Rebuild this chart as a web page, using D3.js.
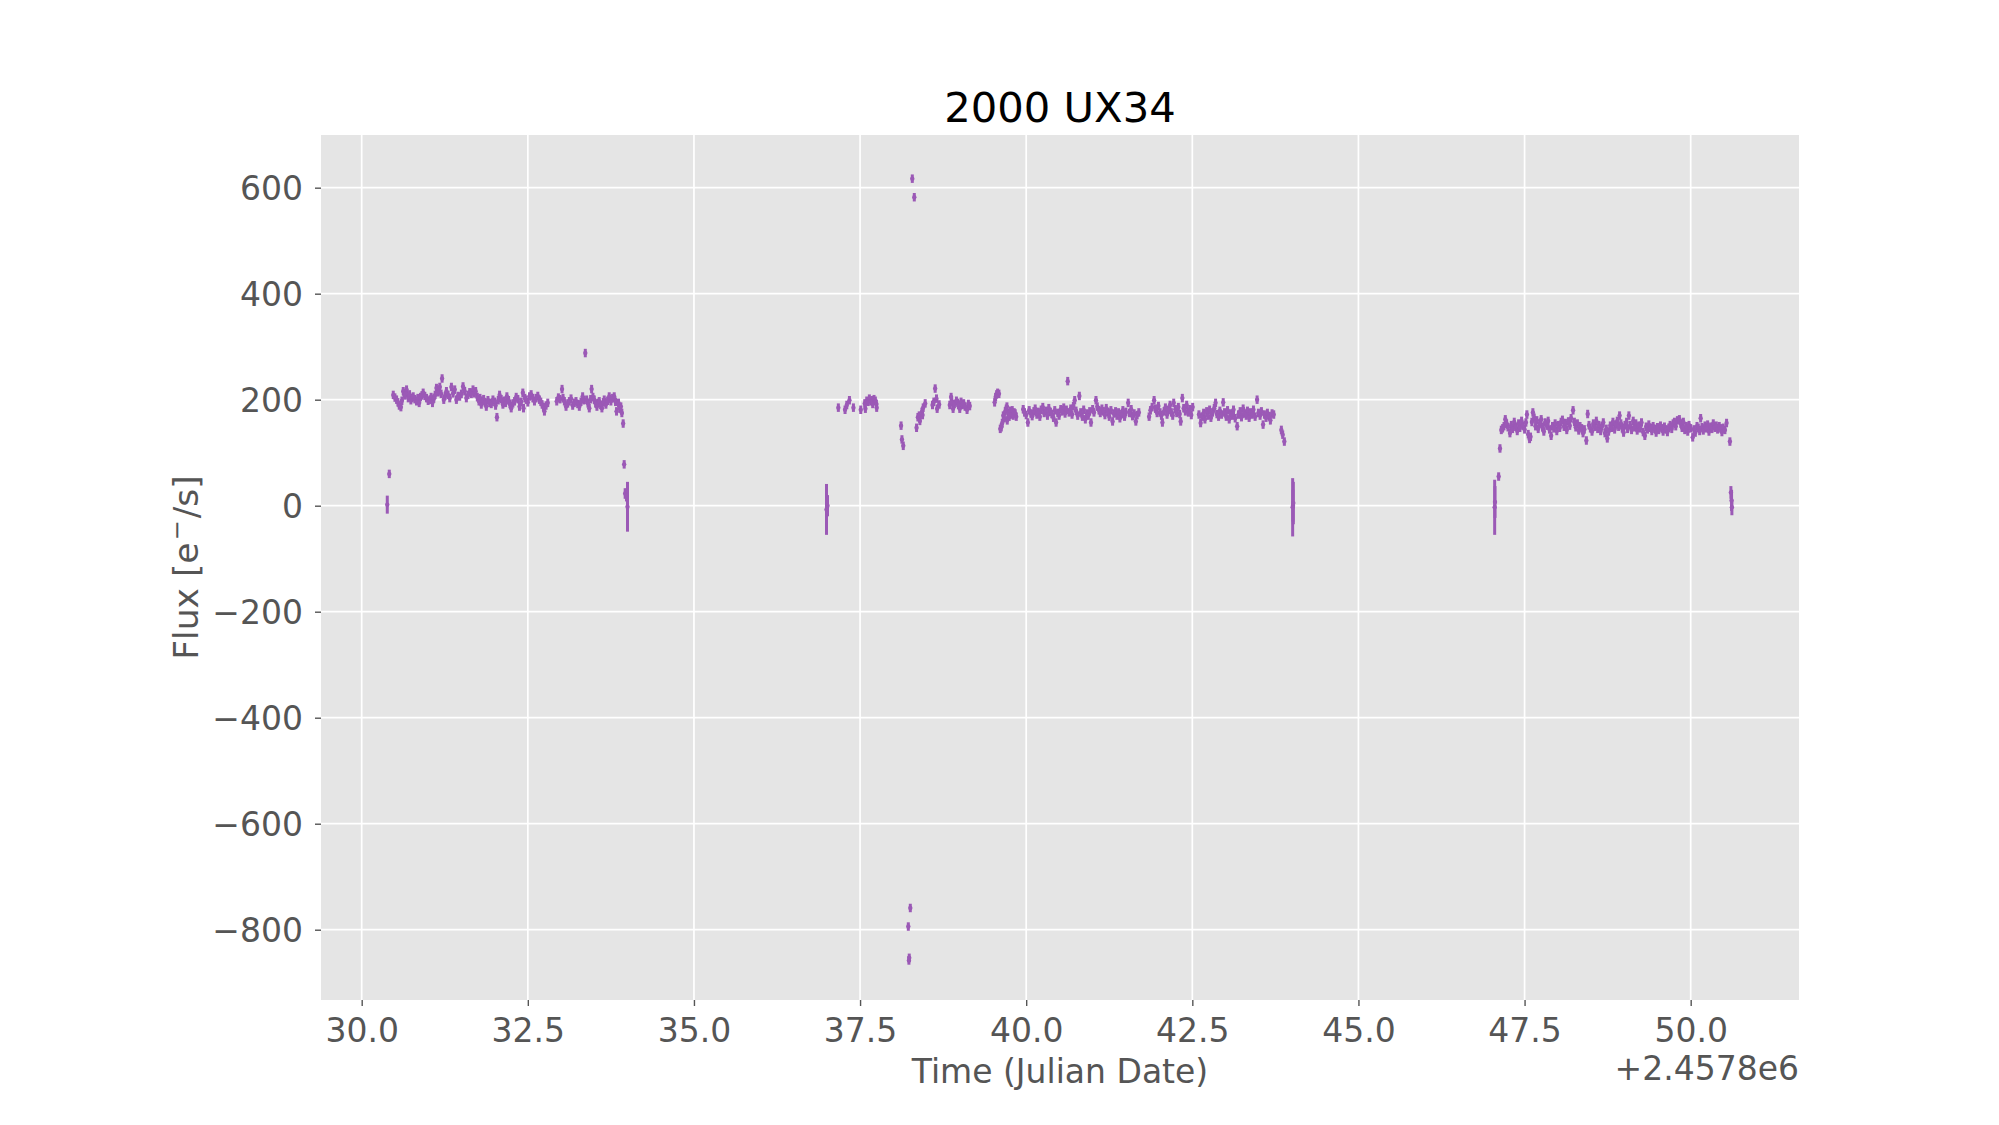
<!DOCTYPE html>
<html>
<head>
<meta charset="utf-8">
<script src="https://cdn.jsdelivr.net/npm/d3@7"></script>
<style>
body { margin: 0; background: #fff; }
text { font-family: "DejaVu Sans", sans-serif; }
</style>
</head>
<body>
<script>

// light curve of 2000 UX34, time is JD - 2457800, flux in e-/s
// [time, flux] pairs, each with the typical error below
var typicalErr = 8;

var campaignA = [
  [30.415,60],[30.475,209],[30.50,204],[30.525,200],[30.545,195],[30.565,189],[30.59,186],[30.605,198],
  [30.625,216],[30.645,208],[30.66,212],[30.675,219],[30.70,203],[30.72,210],[30.74,199],[30.76,203],
  [30.775,206],[30.80,201],[30.825,197],[30.845,203],[30.865,194],[30.885,205],[30.905,208],[30.925,213],
  [30.95,207],[30.975,203],[31.00,198],[31.025,200],[31.045,205],[31.065,194],[31.085,202],[31.105,209],
  [31.125,222],[31.15,214],[31.175,224],[31.195,211],[31.21,240],[31.235,200],[31.255,207],[31.275,216],
  [31.30,209],[31.325,203],[31.35,224],[31.375,212],[31.40,219],[31.425,200],[31.45,207],[31.475,206],
  [31.50,211],[31.525,225],[31.55,216],[31.575,203],[31.60,209],[31.625,214],[31.65,211],[31.675,219],
  [31.695,212],[31.715,216],[31.74,205],[31.765,197],[31.78,203],[31.80,191],[31.815,198],[31.835,201],
  [31.855,195],[31.875,187],[31.90,199],[31.925,194],[31.95,192],[31.975,200],[32.00,196],[32.015,189],
  [32.035,167],[32.055,199],[32.075,209],[32.10,201],[32.125,191],[32.145,198],[32.165,194],[32.185,206],
  [32.21,199],[32.23,192],[32.25,184],[32.275,193],[32.30,197],[32.325,205],[32.35,201],[32.375,187],
  [32.40,196],[32.425,213],[32.435,184],[32.455,203],[32.475,200],[32.50,195],[32.525,206],[32.55,210],
  [32.575,203],[32.60,197],[32.625,203],[32.65,207],[32.675,200],[32.695,196],[32.715,191],[32.735,186],
  [32.75,178],[32.775,189],[32.80,194],[32.935,197],[32.96,204],[32.985,201],[33.015,220],[33.03,203],
  [33.05,197],[33.075,187],[33.10,193],[33.125,197],[33.15,202],[33.175,189],[33.20,194],[33.225,197],
  [33.25,192],[33.275,187],[33.30,196],[33.325,206],[33.345,199],[33.365,288],[33.385,200],[33.405,193],
  [33.425,184],[33.445,201],[33.46,220],[33.48,205],[33.50,200],[33.52,193],[33.54,187],[33.56,194],
  [33.575,197],[33.595,190],[33.615,184],[33.635,195],[33.65,200],[33.675,191],[33.70,198],[33.725,206],
  [33.75,197],[33.775,203],[33.80,206],[33.82,196],[33.835,178],[33.865,194],[33.885,183],[33.90,187],
  [33.915,175],[33.935,155],[33.95,78]
];

var campaignB = [
  [37.173,185],[37.274,181],[37.30,190],[37.34,199],[37.40,185],[37.51,181],[37.57,193],[37.58,183],
  [37.60,198],[37.62,196],[37.64,202],[37.66,197],[37.68,199],[37.69,192],[37.71,201],[37.73,198],
  [37.745,192],[37.75,185],[38.117,151],[38.13,125],[38.15,113],
  [38.226,-794],[38.235,-858],[38.24,-853],[38.256,-759],[38.286,617],[38.316,582],
  [38.35,147],[38.37,167],[38.39,170],[38.40,160],[38.43,177],[38.44,171],[38.45,185],[38.48,193],
  [38.59,190],[38.61,196],[38.63,221],[38.65,202],[38.66,183],[38.69,191],[38.85,190],[38.87,205],
  [38.88,195],[38.90,183],[38.92,192],[38.95,198],[38.97,194],[38.98,190],[39.00,183],[39.02,196],
  [39.04,190],[39.06,193],[39.08,187],[39.11,181],[39.13,192],[39.15,188]
];

var campaignC = [
  [39.525,195],[39.54,205],[39.555,210],[39.57,213],[39.59,211],[39.61,145],[39.625,148],[39.64,156],
  [39.655,170],[39.67,165],[39.685,178],[39.70,183],[39.71,187],[39.715,161],[39.73,175],[39.745,168],
  [39.76,179],[39.775,172],[39.79,180],[39.805,170],[39.82,176],[39.835,174],[39.85,168],
  [39.955,182],[39.975,176],[40.00,171],[40.025,157],[40.045,180],[40.07,174],[40.09,169],[40.115,178],
  [40.135,183],[40.16,172],[40.18,177],[40.205,168],[40.225,181],[40.25,186],[40.27,175],[40.295,179],
  [40.32,170],[40.34,184],[40.365,177],[40.385,173],[40.41,166],[40.43,180],[40.45,157],[40.475,175],
  [40.495,170],[40.52,182],[40.54,178],[40.565,185],[40.585,174],[40.605,181],[40.625,235],[40.645,176],
  [40.67,183],[40.69,172],[40.71,188],[40.73,199],[40.75,179],[40.775,170],[40.80,207],[40.82,176],
  [40.845,168],[40.865,181],[40.89,163],[40.91,174],[40.935,170],[40.955,178],[40.975,157],[41.00,182],
  [41.02,176],[41.05,199],[41.07,187],[41.095,180],[41.115,175],[41.14,183],[41.16,178],[41.185,171],
  [41.205,184],[41.23,177],[41.25,168],[41.275,180],[41.30,159],[41.32,174],[41.345,178],[41.365,170],
  [41.39,176],[41.41,165],[41.435,173],[41.455,180],[41.48,168],[41.50,177],[41.535,194],[41.555,175],
  [41.58,182],[41.60,169],[41.625,174],[41.65,159],[41.67,171],[41.695,176],[41.85,168],[41.87,180],
  [41.895,186],[41.925,199],[41.945,183],[41.97,175],[41.99,188],[42.015,176],[42.035,170],[42.05,157],
  [42.075,178],[42.095,185],[42.12,172],[42.14,181],[42.165,190],[42.185,176],[42.205,170],[42.22,194],
  [42.245,182],[42.265,175],[42.29,186],[42.31,173],[42.325,159],[42.35,203],[42.37,184],[42.395,178],
  [42.415,190],[42.44,176],[42.46,182],[42.485,171],[42.505,186],[42.60,172],[42.625,156],[42.645,168],
  [42.67,175],[42.69,163],[42.715,178],[42.735,170],[42.76,181],[42.78,166],[42.805,176],[42.83,184],
  [42.85,194],[42.87,173],[42.895,168],[42.915,179],[42.94,172],[42.965,195],[42.985,176],[43.01,168],
  [43.03,180],[43.055,163],[43.075,174],[43.10,170],[43.12,181],[43.145,165],[43.175,150],[43.195,172],
  [43.22,178],[43.24,167],[43.265,183],[43.285,174],[43.31,170],[43.33,179],[43.355,166],[43.375,176],
  [43.40,172],[43.42,181],[43.445,168],[43.475,200],[43.495,175],[43.52,170],[43.54,178],[43.565,153],
  [43.585,172],[43.61,166],[43.63,175],[43.655,169],[43.675,161],[43.70,174],[43.725,172],[43.84,143],
  [43.86,134],[43.885,121]
];

var campaignD = [
  [47.11,55],[47.13,108],[47.15,143],[47.17,146],[47.19,150],[47.21,163],[47.23,155],[47.25,148],
  [47.28,137],[47.30,152],[47.32,145],[47.345,158],[47.365,149],[47.39,141],[47.41,155],[47.43,147],
  [47.455,160],[47.475,151],[47.50,144],[47.52,157],[47.535,172],[47.555,135],[47.575,126],[47.59,130],
  [47.61,158],[47.625,176],[47.645,166],[47.665,150],[47.685,161],[47.705,145],[47.73,155],[47.75,163],
  [47.77,148],[47.79,140],[47.81,157],[47.835,151],[47.855,160],[47.875,144],[47.90,132],[47.92,150],
  [47.94,146],[47.96,155],[47.985,141],[48.005,152],[48.03,147],[48.05,158],[48.07,162],[48.095,149],
  [48.115,156],[48.135,143],[48.16,159],[48.18,151],[48.20,165],[48.23,180],[48.25,158],[48.27,148],
  [48.295,155],[48.315,142],[48.335,150],[48.36,146],[48.38,137],[48.40,144],[48.43,123],[48.45,173],
  [48.47,152],[48.49,146],[48.515,140],[48.535,155],[48.555,149],[48.58,160],[48.60,145],[48.62,152],
  [48.645,141],[48.665,150],[48.685,157],[48.71,137],[48.73,145],[48.745,127],[48.765,140],[48.79,151],
  [48.81,147],[48.83,158],[48.855,144],[48.875,153],[48.895,160],[48.915,149],[48.93,170],[48.95,155],
  [48.97,146],[48.99,138],[49.01,152],[49.035,158],[49.05,145],[49.07,170],[49.09,152],[49.11,143],
  [49.135,160],[49.155,148],[49.175,155],[49.195,142],[49.22,151],[49.24,146],[49.26,157],[49.285,139],
  [49.31,132],[49.33,149],[49.35,144],[49.37,153],[49.395,147],[49.415,141],[49.435,150],[49.46,145],
  [49.48,138],[49.50,148],[49.52,143],[49.545,151],[49.565,146],[49.585,140],[49.605,149],[49.63,144],
  [49.65,139],[49.67,147],[49.69,152],[49.715,145],[49.735,155],[49.755,158],[49.775,150],[49.80,161],
  [49.83,163],[49.85,155],[49.87,147],[49.89,158],[49.91,143],[49.935,150],[49.955,140],[49.975,152],
  [50.00,146],[50.03,129],[50.05,144],[50.07,138],[50.095,150],[50.115,147],[50.135,141],[50.15,165],
  [50.17,148],[50.19,142],[50.215,151],[50.235,146],[50.255,153],[50.275,140],[50.30,149],[50.32,145],
  [50.34,155],[50.365,147],[50.385,151],[50.405,144],[50.43,150],[50.45,146],[50.47,139],[50.49,147],
  [50.515,143],[50.54,156],[50.59,121]
];

// points at the segment edges with large errors: [time, flux, error]
var edgePoints = [
  [30.385,2,17],[33.965,23,10],[33.985,20,12],[34.00,-2,47],
  [36.995,-7,48],[37.01,0,20],
  [44.01,-3,55],[44.015,0,30],[44.02,5,40],
  [47.05,-3,52],[47.055,7,30],
  [50.605,25,12],[50.615,10,20],[50.62,-3,15]
];

var xTicks = [30, 32.5, 35, 37.5, 40, 42.5, 45, 47.5, 50];
var xTickLabels = ["30.0","32.5","35.0","37.5","40.0","42.5","45.0","47.5","50.0"];
var yTicks = [-800, -600, -400, -200, 0, 200, 400, 600];
var yTickLabels = ["\u2212800","\u2212600","\u2212400","\u2212200","0","200","400","600"];

//Width and height of SVG canvas
var w = 1999;
var h = 1125;
var axLeft = 321, axRight = 1799, axTop = 135, axBottom = 1000;
var purple = "#9b59b6";
var grey = "#555555";

var svg = d3.select("body")
  .append("svg")
  .attr("width", w)
  .attr("height", h);

var x = d3.scaleLinear().domain([29.3875, 51.63]).range([axLeft, axRight]);
var y = d3.scaleLinear().domain([-932.6, 699.4]).range([axBottom, axTop]);

// axes background
svg.append("rect")
  .attr("x", axLeft).attr("y", axTop)
  .attr("width", axRight - axLeft).attr("height", axBottom - axTop)
  .attr("fill", "#e5e5e5");

// grid
svg.append("g").selectAll("line").data(xTicks).enter().append("line")
  .attr("x1", d => x(d)).attr("x2", d => x(d))
  .attr("y1", axTop).attr("y2", axBottom)
  .attr("stroke", "#fff").attr("stroke-width", 1.7);
svg.append("g").selectAll("line").data(yTicks).enter().append("line")
  .attr("y1", d => y(d)).attr("y2", d => y(d))
  .attr("x1", axLeft).attr("x2", axRight)
  .attr("stroke", "#fff").attr("stroke-width", 1.7);

// x axis
var xAxis = d3.axisBottom(x)
  .tickValues(xTicks)
  .tickFormat((d, i) => xTickLabels[i])
  .tickSize(6);
svg.append("g")
  .attr("transform", "translate(0," + axBottom + ")")
  .call(xAxis)
  .call(g => g.select(".domain").remove())
  .call(g => g.selectAll(".tick line").attr("stroke", grey).attr("stroke-width", 1.4))
  .call(g => g.selectAll(".tick text")
    .attr("y", 42).attr("dy", null)
    .attr("fill", grey)
    .style("font-size", "33px")
    .style("font-family", "'DejaVu Sans', sans-serif"));

// y axis
var yAxis = d3.axisLeft(y)
  .tickValues(yTicks)
  .tickFormat((d, i) => yTickLabels[i])
  .tickSize(6);
svg.append("g")
  .attr("transform", "translate(" + axLeft + ",0)")
  .call(yAxis)
  .call(g => g.select(".domain").remove())
  .call(g => g.selectAll(".tick line").attr("stroke", grey).attr("stroke-width", 1.4))
  .call(g => g.selectAll(".tick text")
    .attr("x", -18).attr("dy", "0.36em")
    .attr("fill", grey)
    .style("font-size", "33px")
    .style("font-family", "'DejaVu Sans', sans-serif"));

// error bars
var points = campaignA.concat(campaignB, campaignC, campaignD)
  .map(d => [d[0], d[1], typicalErr])
  .concat(edgePoints);

var marks = svg.append("g");
marks.selectAll("line").data(points).enter().append("line")
  .attr("x1", d => x(d[0])).attr("x2", d => x(d[0]))
  .attr("y1", d => y(d[1] - d[2])).attr("y2", d => y(d[1] + d[2]))
  .attr("stroke", purple)
  .attr("stroke-width", 3);
marks.selectAll("circle").data(points).enter().append("circle")
  .attr("cx", d => x(d[0])).attr("cy", d => y(d[1]))
  .attr("r", 2.2)
  .attr("fill", purple);

// title and labels
svg.append("text")
  .attr("x", (axLeft + axRight) / 2).attr("y", 122)
  .attr("text-anchor", "middle")
  .style("font-size", "41.7px")
  .attr("fill", "#000")
  .text("2000 UX34");

svg.append("text")
  .attr("x", (axLeft + axRight) / 2).attr("y", 1083)
  .attr("text-anchor", "middle")
  .style("font-size", "33px")
  .attr("fill", grey)
  .text("Time (Julian Date)");

svg.append("text")
  .attr("x", axRight).attr("y", 1080)
  .attr("text-anchor", "end")
  .style("font-size", "33px")
  .attr("fill", grey)
  .text("+2.4578e6");

var yl = svg.append("text")
  .attr("transform", "translate(198," + (axTop + axBottom) / 2 + ") rotate(-90)")
  .attr("text-anchor", "middle")
  .style("font-size", "34.5px")
  .attr("fill", grey);
yl.append("tspan").text("Flux [e");
yl.append("tspan").attr("dy", -13).attr("dx", 2).style("font-size", "24px").text("\u2212");
yl.append("tspan").attr("dy", 13).attr("dx", 2).text("/s]");

</script>
</body>
</html>
